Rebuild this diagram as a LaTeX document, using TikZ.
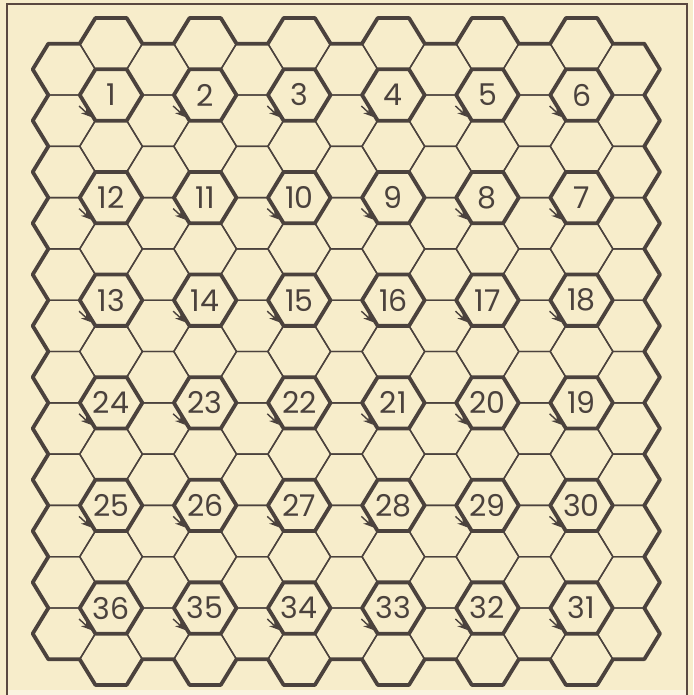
\documentclass[tikz,border=0pt]{standalone}
\usepackage{fontspec}
\setmainfont{Poppins}
\usetikzlibrary{arrows.meta}
\definecolor{bg}{HTML}{F7EDCB}
\definecolor{ink}{HTML}{4B423D}
\definecolor{framec}{HTML}{5A4840}
\begin{document}
\begin{tikzpicture}[x=1pt,y=-1pt,
  thinl/.style={ink, line width=1.4pt, line join=round},
  thickl/.style={ink, line width=3.8pt, line cap=round, line join=round},
  numlabel/.style={font=\fontsize{30}{30}\selectfont, text=ink, inner sep=0pt},
  tickarrow/.style={ink, line width=1.4pt, -{Stealth[length=10pt,width=8pt]}},
  framestyle/.style={framec, line width=2.2pt}
]
\fill[bg] (0,0) rectangle (693,695);
\useasboundingbox (0,0) rectangle (693,695);
\fill[bg!60!white] (8,690) rectangle (686,695);
% thin grid
\foreach \c in {0,...,12} {
  \pgfmathsetmacro\cx{64+47.05*\c}
  \pgfmathtruncatemacro\odd{mod(\c,2)}
  \ifnum\odd=1 \def\kmax{12}\def\yo{43.7}\else\def\kmax{11}\def\yo{69.35}\fi
  \foreach \k in {0,...,\kmax} {
    \pgfmathsetmacro\cy{\yo+51.3*\k}
    \draw[thinl,shift={(\cx,\cy)}] (0:31.3 and 29.62) -- (60:31.3 and 29.62) -- (120:31.3 and 29.62) -- (180:31.3 and 29.62) -- (240:31.3 and 29.62) -- (300:31.3 and 29.62) -- cycle;
  }
}
% outer boundary
\draw[thickl] (48.35,43.7)
  \foreach \c [evaluate=\c as \cx using {64+47.05*\c}, evaluate=\c as \ty using {43.7-25.65*mod(\c,2)}] in {0,...,12} { -- (\cx-15.65,\ty) -- (\cx+15.65,\ty) }
  \foreach \k in {0,...,11} { -- (659.9,69.35+51.3*\k) -- (644.25,95+51.3*\k) }
  \foreach \c [evaluate=\c as \cx using {64+47.05*\c}, evaluate=\c as \by using {659.25+25.65*mod(\c,2)}] in {12,...,0} { -- (\cx+15.65,\by) -- (\cx-15.65,\by) }
  \foreach \k in {11,...,0} { -- (32.7,69.35+51.3*\k) -- (48.35,43.7+51.3*\k) }
  -- cycle;
% numbered hexes
\foreach \r in {0,...,5} {
  \foreach \m in {0,...,5} {
    \pgfmathtruncatemacro\n{ifthenelse(mod(\r,2)==0, 6*\r+\m+1, 6*\r+6-\m)}
    \pgfmathsetmacro\hx{64+47.05*(2*\m+1)}
    \pgfmathsetmacro\hy{43.7+51.3*(2*\r+1)}
    \coordinate (h\n) at (\hx,\hy);
    \draw[thickl,shift={(\hx,\hy)}] (0:31.3 and 29.62) -- (60:31.3 and 29.62) -- (120:31.3 and 29.62) -- (180:31.3 and 29.62) -- (240:31.3 and 29.62) -- (300:31.3 and 29.62) -- cycle;
    \draw[tickarrow] ([shift={(-32,11)}]h\n) -- ([shift={(-20,22)}]h\n);
    \node[numlabel] (n\n) at (h\n) {\n};
  }
}
% frame
\draw[framestyle] (7,695) -- (7,4) -- (687,4) -- (687,695);
\end{tikzpicture}
\end{document}
